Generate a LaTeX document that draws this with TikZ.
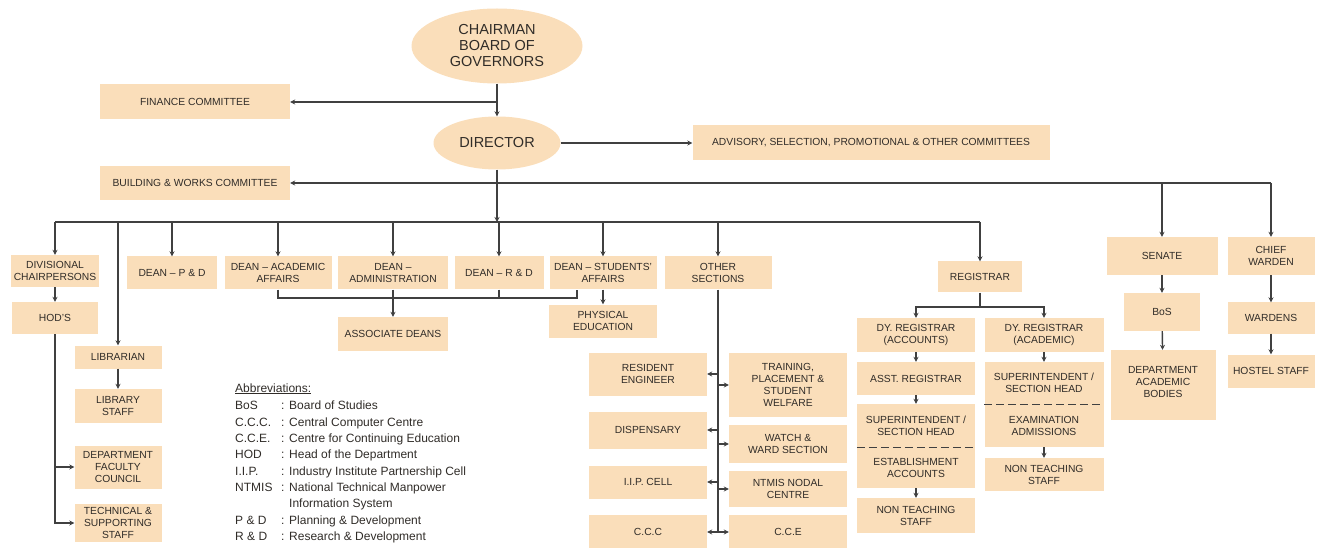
\documentclass[tikz,border=0pt]{standalone}
\usepackage{fontspec}
\setmainfont{Liberation Sans}
\usetikzlibrary{arrows.meta,shapes.geometric,positioning}
\definecolor{boxfill}{RGB}{250,222,186}
\definecolor{inkgray}{RGB}{48,44,40}
\definecolor{linegray}{RGB}{64,64,64}
\tikzset{
  box/.style={fill=boxfill, inner sep=0pt, align=center, text=inkgray, font=\fontsize{10.3}{12}\selectfont},
  ell/.style={ellipse, fill=boxfill, inner sep=0pt, align=center, text=inkgray, font=\fontsize{14.5}{16}\selectfont},
  arr/.style={draw=linegray, line width=1.4pt, -{Stealth[length=5pt,width=5pt]}},
  ln/.style={draw=linegray, line width=1.4pt},
  abbr/.style={anchor=base west, inner sep=0pt, text=inkgray, font=\fontsize{12}{14}\selectfont}
}
\begin{document}
\begin{tikzpicture}[x=1pt,y=-1pt]
\useasboundingbox (0,0) rectangle (1326,548);

%top of the chart
\node[ell, minimum width=171, minimum height=75] (chair) at (497,46) {CHAIRMAN\\BOARD OF\\GOVERNORS};
\node[ell, minimum width=127, minimum height=53] (dir) at (497,143) {DIRECTOR};
\node[box, minimum width=190, minimum height=35] (fin) at (195,102) {FINANCE COMMITTEE};
\node[box, minimum width=357, minimum height=35] (adv) at (871,143) {ADVISORY, SELECTION, PROMOTIONAL \& OTHER COMMITTEES};
\node[box, minimum width=190, minimum height=34] (bwc) at (195,183) {BUILDING \& WORKS COMMITTEE};

%first row under the director
\node[box, minimum width=88, minimum height=32] (div) at (55,271) {DIVISIONAL\\CHAIRPERSONS};
\node[box, minimum width=90, minimum height=33] (dpd) at (172,273) {DEAN -- P \& D};
\node[box, minimum width=107, minimum height=33] (daa) at (278,273) {DEAN -- ACADEMIC\\AFFAIRS};
\node[box, minimum width=110, minimum height=33] (dad) at (393,273) {DEAN --\\ADMINISTRATION};
\node[box, minimum width=89, minimum height=33] (drd) at (499,273) {DEAN -- R \& D};
\node[box, minimum width=107, minimum height=33] (dsa) at (603,273) {DEAN -- STUDENTS'\\AFFAIRS};
\node[box, minimum width=107, minimum height=33] (oth) at (718,273) {OTHER\\SECTIONS};
\node[box, minimum width=84, minimum height=31] (reg) at (980,277) {REGISTRAR};
\node[box, minimum width=111, minimum height=38] (sen) at (1162,256) {SENATE};
\node[box, minimum width=87, minimum height=38] (cw) at (1271,256) {CHIEF\\WARDEN};

%left columns
\node[box, minimum width=86, minimum height=32] (hod) at (55,318) {HOD'S};
\node[box, minimum width=87, minimum height=23] (lib) at (118,357) {LIBRARIAN};
\node[box, minimum width=87, minimum height=34] (lst) at (118,406) {LIBRARY\\STAFF};
\node[box, minimum width=87, minimum height=43] (dfc) at (118,467) {DEPARTMENT\\FACULTY\\COUNCIL};
\node[box, minimum width=87, minimum height=38] (tss) at (118,523) {TECHNICAL \&\\SUPPORTING\\STAFF};

%deans
\node[box, minimum width=110, minimum height=34] (ass) at (393,334) {ASSOCIATE DEANS};
\node[box, minimum width=108, minimum height=33] (phy) at (603,321) {PHYSICAL\\EDUCATION};

%other sections
\node[box, minimum width=118, minimum height=43] (res) at (648,374) {RESIDENT\\ENGINEER};
\node[box, minimum width=118, minimum height=37] (dis) at (648,430) {DISPENSARY};
\node[box, minimum width=118, minimum height=33] (iip) at (648,482) {I.I.P. CELL};
\node[box, minimum width=118, minimum height=34] (ccc) at (648,532) {C.C.C};
\node[box, minimum width=118, minimum height=64] (trn) at (788,385) {TRAINING,\\PLACEMENT \&\\STUDENT\\WELFARE};
\node[box, minimum width=118, minimum height=38] (wat) at (788,444) {WATCH \&\\WARD SECTION};
\node[box, minimum width=118, minimum height=36] (ntm) at (788,489) {NTMIS NODAL\\CENTRE};
\node[box, minimum width=118, minimum height=34] (cce) at (788,532) {C.C.E};

%registrar
\node[box, minimum width=118, minimum height=34] (dra) at (916,335) {DY. REGISTRAR\\(ACCOUNTS)};
\node[box, minimum width=119, minimum height=34] (drc) at (1044,335) {DY. REGISTRAR\\(ACADEMIC)};
\node[box, minimum width=118, minimum height=33] (asr) at (916,378.5) {ASST. REGISTRAR};
\node[box, minimum width=118, minimum height=43] (supA) at (916,425.5) {SUPERINTENDENT /\\SECTION HEAD};
\node[box, minimum width=118, minimum height=41] (estA) at (916,467.5) {ESTABLISHMENT\\ACCOUNTS};
\node[box, minimum width=118, minimum height=35] (ntsA) at (916,515.5) {NON TEACHING\\STAFF};
\node[box, minimum width=119, minimum height=42] (supB) at (1044,383) {SUPERINTENDENT /\\SECTION HEAD};
\node[box, minimum width=119, minimum height=43] (exmB) at (1044,425.5) {EXAMINATION\\ADMISSIONS};
\node[box, minimum width=119, minimum height=33] (ntsB) at (1044,474.5) {NON TEACHING\\STAFF};
\draw[ln, dash pattern=on 8pt off 4pt] (supA.south west) -- (supA.south east);
\draw[ln, dash pattern=on 8pt off 4pt] (supB.south west) -- (supB.south east);

%senate and wardens
\node[box, minimum width=76, minimum height=38] (bos) at (1162,312) {BoS};
\node[box, minimum width=105, minimum height=70] (dab) at (1163,385) {};
\node[box, anchor=north] (dabt) at ([yshift=-16pt]dab.north) {DEPARTMENT\\ACADEMIC\\BODIES};
\node[box, minimum width=87, minimum height=31] (war) at (1271,318) {WARDENS};
\node[box, minimum width=87, minimum height=33] (hst) at (1271,371) {HOSTEL STAFF};

%connectors at the top
\draw[arr] (chair) -- (dir);
\draw[arr] (chair.south |- fin.east) -- (fin.east);
\draw[arr] (dir) -- (adv);
\draw[arr] (cw.north |- bwc.east) -- (bwc.east);
\draw[arr] (cw.north |- bwc.east) -- (cw.north);
\draw[arr] (sen.north |- bwc.east) -- (sen.north);

%main bus
\coordinate (busB) at (497,222);
\draw[arr] (dir) -- (busB);
\draw[ln] (div.north |- busB) -- (reg.north |- busB);
\foreach \n in {div,dpd,daa,dad,drd,dsa,oth,reg,lib}
  \draw[arr] (\n.north |- busB) -- (\n.north);

%left side
\draw[arr] (div) -- (hod);
\draw[arr] (hod.south) |- (tss.west);
\draw[arr] (hod.south |- dfc.west) -- (dfc.west);
\draw[arr] (lib) -- (lst);

%deans bracket
\coordinate (brk) at (577,298);
\draw[ln] (daa.south) |- (brk) -- (brk |- dsa.south);
\draw[ln] (drd.south) -- (drd.south |- brk);
\draw[arr] (dad.south) -- (ass.north);
\draw[arr] (dsa) -- (phy);

%other sections
\coordinate (othB) at (718,532);
\draw[ln] (oth.south) -- (othB);
\foreach \n in {res,dis,iip,ccc}
  \draw[arr] (othB |- \n.east) -- (\n.east);
\foreach \n in {trn,wat,ntm,cce}
  \draw[arr] (othB |- \n.west) -- (\n.west);

%registrar
\coordinate (regB) at (980,307);
\draw[ln] (reg.south) -- (regB);
\draw[arr] (regB) -| (dra.north);
\draw[arr] (regB) -| (drc.north);
\draw[arr] (dra) -- (asr);
\draw[arr] (asr) -- (supA);
\draw[arr] (estA) -- (ntsA);
\draw[arr] (drc) -- (supB);
\draw[arr] (exmB) -- (ntsB);

%senate and wardens
\draw[arr] (sen) -- (bos);
\draw[arr] (bos) -- (dab);
\draw[arr] (cw) -- (war);
\draw[arr] (war) -- (hst);

%abbreviations
\node[abbr] (abh) at (235,392) {\underline{Abbreviations:}};
\foreach \yy/\k/\t [count=\i] in {409/BoS/Board of Studies, 426/C.C.C./Central Computer Centre, 442/C.C.E./Centre for Continuing Education, 458/HOD/Head of the Department, 475/I.I.P./Industry Institute Partnership Cell, 491/NTMIS/National Technical Manpower, 524/P \& D/Planning \& Development, 540/R \& D/Research \& Development}{
  \node[abbr] (abk\i) at (235,\yy) {\k};
  \node[abbr] (abc\i) at (281,\yy) {:};
  \node[abbr] (abt\i) at (289,\yy) {\t};
}
\node[abbr] (abt9) at (289,507) {Information System};
\end{tikzpicture}
\end{document}
